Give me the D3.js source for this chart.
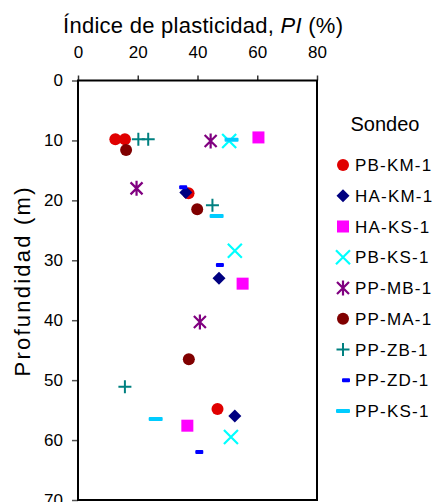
<!DOCTYPE html>
<html>
<head>
<meta charset="utf-8">
<script src="https://cdn.jsdelivr.net/npm/d3@7"></script>
<style>
  body { margin: 0; background: #fff; }
  svg { display: block; font-family: "Liberation Sans", Arial, sans-serif; }
</style>
</head>
<body>
<svg id="chart" width="438" height="502"></svg>
<script>
// data: [PI (%), depth (m)]
const seriesNames = ["PB-KM-1", "HA-KM-1", "HA-KS-1", "PB-KS-1", "PP-MB-1", "PP-MA-1", "PP-ZB-1", "PP-ZD-1", "PP-KS-1"];
const pbKm1 = [[12.5, 9.8], [15.7, 9.8], [37.0, 18.8], [46.7, 54.8]];
const haKm1 = [[36.1, 18.7], [47.2, 33.0], [52.5, 56.0]];
const haKs1 = [[60.4, 9.5], [55.1, 33.9], [36.6, 57.6]];
const pbKs1 = [[50.6, 10.1], [52.5, 28.4], [51.2, 59.5]];
const ppMb1 = [[44.4, 10.1], [19.6, 18.0], [40.8, 40.3]];
const ppMa1 = [[16.1, 11.6], [39.9, 21.5], [37.1, 46.5]];
const ppZb1 = [[20.2, 9.8], [23.5, 9.8], [45.0, 20.8], [15.7, 51.1]];
const ppZd1 = [[35.2, 17.8], [47.5, 30.8], [40.6, 62.0]];
const ppKs1 = [[51.4, 9.9], [46.4, 22.6], [26.0, 56.5]];
const seriesValues = [pbKm1, haKm1, haKs1, pbKs1, ppMb1, ppMa1, ppZb1, ppZd1, ppKs1];

const xTicks = [0, 20, 40, 60, 80];
const yTicks = [0, 10, 20, 30, 40, 50, 60, 70];

// marker styles per series
const styles = [
  { shape: "circle", color: "#e00000" },
  { shape: "diamond", color: "#000080" },
  { shape: "square", color: "#ff00ff" },
  { shape: "x", color: "#00ffff" },
  { shape: "star", color: "#800080" },
  { shape: "circle", color: "#800000" },
  { shape: "plus", color: "#008080" },
  { shape: "smalldash", color: "#0000ff" },
  { shape: "dash", color: "#00ccff" }
];

const svg = d3.select("#chart");
const plotL = 78, plotR = 317, plotT = 80.5, plotB = 500;

const x = d3.scaleLinear().domain([0, 80]).range([plotL, plotR]);
const y = d3.scaleLinear().domain([0, 70]).range([plotT, plotB]);

// axes
const xAxis = d3.axisTop(x).tickValues(xTicks).tickSize(5).tickPadding(18);
svg.append("g").attr("transform", `translate(0,${plotT})`).call(xAxis)
  .call(g => g.select(".domain").remove())
  .call(g => g.selectAll("text").attr("font-size", 17).attr("fill", "#000").attr("font-family", "Liberation Sans, Arial, sans-serif"))
  .call(g => g.selectAll("line").attr("stroke", "#333").attr("stroke-width", 1.5));

const yAxis = d3.axisLeft(y).tickValues(yTicks).tickSize(6).tickPadding(9);
svg.append("g").attr("transform", `translate(${plotL},0)`).call(yAxis)
  .call(g => g.select(".domain").remove())
  .call(g => g.selectAll("text").attr("font-size", 17).attr("fill", "#000").attr("font-family", "Liberation Sans, Arial, sans-serif"))
  .call(g => g.selectAll("line").attr("stroke", "#555").attr("stroke-width", 1.5));

// plot frame
svg.append("rect")
  .attr("x", plotL).attr("y", plotT)
  .attr("width", plotR - plotL).attr("height", plotB - plotT)
  .attr("fill", "none").attr("stroke", "#000").attr("stroke-width", 2);

// titles
svg.append("text")
  .attr("x", 203).attr("y", 33)
  .attr("text-anchor", "middle").attr("font-size", 22)
  .attr("textLength", 280).attr("lengthAdjust", "spacing")
  .html('Índice de plasticidad, <tspan font-style="italic">PI</tspan> (%)');

svg.append("text")
  .attr("transform", "translate(30,282) rotate(-90)")
  .attr("text-anchor", "middle").attr("font-size", 22)
  .attr("textLength", 189).attr("lengthAdjust", "spacing")
  .text("Profundidad (m)");

// marker drawing
function drawMarker(g, shape, color) {
  if (shape === "circle") {
    g.append("circle").attr("r", 6).attr("fill", color);
  } else if (shape === "diamond") {
    g.append("rect").attr("x", -4.6).attr("y", -4.6).attr("width", 9.2).attr("height", 9.2)
      .attr("transform", "rotate(45)").attr("fill", color);
  } else if (shape === "square") {
    g.append("rect").attr("x", -6).attr("y", -6).attr("width", 12).attr("height", 12).attr("fill", color);
  } else if (shape === "x") {
    g.append("path").attr("d", "M-7,-7L7,7M-7,7L7,-7").attr("stroke", color).attr("stroke-width", 2.2);
  } else if (shape === "star") {
    g.append("path").attr("d", "M-6,-6L6,6M-6,6L6,-6M0,-7.5L0,7.5").attr("stroke", color).attr("stroke-width", 2.2);
  } else if (shape === "plus") {
    g.append("path").attr("d", "M-6.5,0L6.5,0M0,-6.5L0,6.5").attr("stroke", color).attr("stroke-width", 2);
  } else if (shape === "smalldash") {
    g.append("rect").attr("x", -4).attr("y", -2).attr("width", 8).attr("height", 4).attr("rx", 1).attr("fill", color);
  } else if (shape === "dash") {
    g.append("rect").attr("x", -7).attr("y", -2).attr("width", 14).attr("height", 4).attr("rx", 1).attr("fill", color);
  }
}

seriesValues.forEach((vals, i) => {
  const s = styles[i];
  svg.append("g").selectAll("g")
    .data(vals)
    .join("g")
    .attr("transform", d => `translate(${x(d[0])},${y(d[1])})`)
    .each(function () { drawMarker(d3.select(this), s.shape, s.color); });
});

// legend
const legend = svg.append("g");
legend.append("text").attr("x", 385).attr("y", 131)
  .attr("text-anchor", "middle").attr("font-size", 20).text("Sondeo");

const legendY = d3.scalePoint().domain(seriesNames).range([165, 411]);
seriesNames.forEach((name, i) => {
  const row = legend.append("g").attr("transform", `translate(0,${legendY(name)})`);
  const sym = row.append("g").attr("transform", `translate(${styles[i].shape === "smalldash" ? 346 : 343},0)`);
  drawMarker(sym, styles[i].shape, styles[i].color);
  row.append("text").attr("x", 355).attr("y", 6).attr("font-size", 17)
    .attr("letter-spacing", 1.2)
    .text(name);
});
</script>
</body>
</html>
